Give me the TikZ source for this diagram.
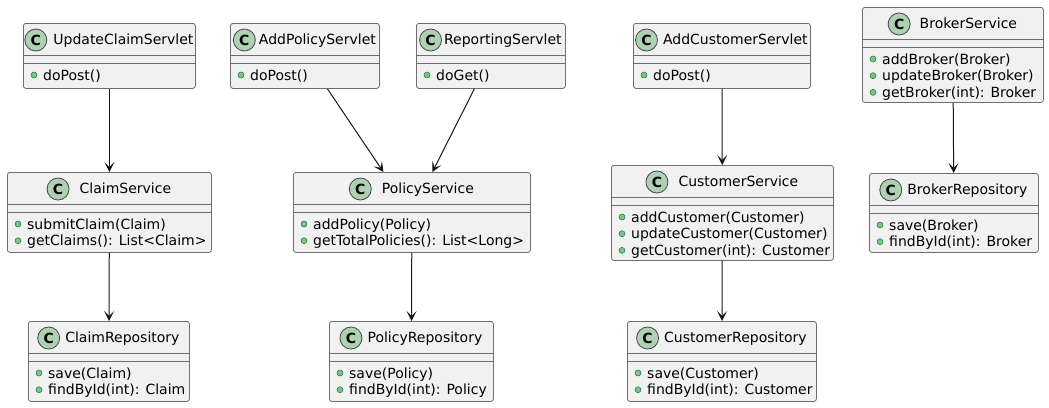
\documentclass[tikz,border=0pt]{standalone}
\usepackage{fontspec}
\setmainfont{DejaVu Sans}
\usetikzlibrary{positioning,arrows.meta}

\definecolor{boxfill}{RGB}{241,241,241}
\definecolor{boxline}{RGB}{110,110,110}
\definecolor{spotfill}{RGB}{173,209,178}
\definecolor{dotfill}{RGB}{132,190,132}
\definecolor{dotline}{RGB}{3,128,72}
\definecolor{edge}{RGB}{24,24,24}

\tikzset{
  cls/.style={draw=boxline, fill=boxfill, line width=0.8pt, rounded corners=2.5pt, inner sep=0pt},
  divider/.style={draw=boxline, line width=0.8pt},
  ttl/.style={inner sep=0pt, anchor=base, text height=10pt, text depth=2pt, font=\fontsize{14}{16}\selectfont},
  spot/.style={circle, draw=edge!80, fill=spotfill, line width=0.8pt, minimum size=22pt, inner sep=0pt, font=\fontsize{14}{16}\selectfont\bfseries},
  mem/.style={inner sep=0pt, anchor=base west, font=\fontsize{14}{16}\selectfont},
  mdot/.style={circle, draw=dotline, fill=dotfill, line width=0.5pt, minimum size=6pt, inner sep=0pt},
  dep/.style={draw=edge, line width=1pt, -{Stealth[length=10pt, width=10pt, inset=5pt]}},
}

% [gap], name, left, top, width, height, title, members
\newcommand{\umlclass}[8][10]{%
  \node[cls, anchor=north west, minimum width=#5pt, minimum height=#6pt] (#2) at (#3,#4) {};
  \draw[divider] ([yshift=-32pt]#2.north west) -- ([yshift=-32pt]#2.north east)
                 ([yshift=-40pt]#2.north west) -- ([yshift=-40pt]#2.north east);
  \node[ttl] (#2-t) at ([xshift={(22pt+#1pt)/2}, yshift=-21pt]#2.north) {#7};
  \node[spot, left=#1pt of #2-t] (#2-c) {C};
  \foreach \m [count=\i] in {#8} {
    \node[mdot] (#2-d\i) at ([xshift=11pt, yshift={-52pt-(\i-1)*16.7pt}]#2.north west) {};
    \node[mem] (#2-m\i) at ([xshift=20pt, yshift={-57pt-(\i-1)*16.7pt}]#2.north west) {\m};
  }
}

\begin{document}
\begin{tikzpicture}[x=1pt, y=-1pt]
\useasboundingbox (0,0) rectangle (1049,407);

% servlets
\umlclass[6]{UpdClaim}{23}{23}{172}{65}{UpdateClaimServlet}{doPost()}
\umlclass[3]{AddPolicy}{230}{23}{149}{65}{AddPolicyServlet}{doPost()}
\umlclass[2]{Reporting}{416}{23}{149}{65}{ReportingServlet}{doGet()}
\umlclass[5]{AddCust}{633}{23}{177}{65}{AddCustomerServlet}{doPost()}

% services
\umlclass[9]{BrokerSvc}{862}{7}{181}{95}{BrokerService}{addBroker(Broker), updateBroker(Broker), getBroker(int): Broker}
\umlclass{ClaimSvc}{7}{172}{204}{80}{ClaimService}{submitClaim(Claim), getClaims(): List<Claim>}
\umlclass{PolicySvc}{293}{172}{237}{80}{PolicyService}{addPolicy(Policy), getTotalPolicies(): List<Long>}
\umlclass{CustSvc}{611}{165}{222}{95}{CustomerService}{addCustomer(Customer), updateCustomer(Customer), getCustomer(int): Customer}

% repositories
\umlclass[5]{BrokerRepo}{869}{173}{169}{79}{BrokerRepository}{save(Broker), findById(int): Broker}
\umlclass[5]{ClaimRepo}{28}{321}{161}{80}{ClaimRepository}{save(Claim), findById(int): Claim}
\umlclass[5]{PolicyRepo}{329}{321}{164}{80}{PolicyRepository}{save(Policy), findById(int): Policy}
\umlclass[5]{CustRepo}{627}{321}{189}{80}{CustomerRepository}{save(Customer), findById(int): Customer}

% dependencies
\draw[dep] (UpdClaim) -- (ClaimSvc);
\draw[dep] ([xshift=22.5pt]AddPolicy.south) -- ([xshift=-28.5pt]PolicySvc.north);
\draw[dep] ([xshift=-16.5pt]Reporting.south) -- ([xshift=20.5pt]PolicySvc.north);
\draw[dep] (AddCust) -- (CustSvc);
\draw[dep] (BrokerSvc) -- (BrokerRepo);
\draw[dep] (ClaimSvc) -- (ClaimRepo);
\draw[dep] (PolicySvc) -- (PolicyRepo);
\draw[dep] (CustSvc) -- (CustRepo);
\end{tikzpicture}
\end{document}
